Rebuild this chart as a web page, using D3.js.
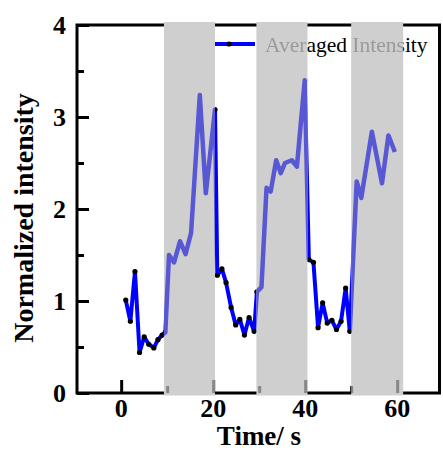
<!DOCTYPE html>
<html><head><meta charset="utf-8">
<script src="https://cdn.jsdelivr.net/npm/d3@7"></script>
<style>html,body{margin:0;padding:0;background:#fff;} svg{display:block;}</style>
</head><body>
<svg id="chart" width="443" height="450"></svg>
<script>
// ---- data ----
const times = [1.0,2.0,3.0,4.0,5.0,6.0,7.1,8.0,8.9,
  9.6,10.4,11.5,12.8,14.0,15.2,17.1,18.4,20.4,
  20.9,21.9,22.8,23.9,24.9,25.8,26.8,27.8,28.9,
  29.5,30.5,31.6,32.5,33.7,34.7,35.6,37.1,38.2,39.9,
  40.8,41.8,42.8,43.8,44.8,45.8,46.8,47.8,48.8,49.7,
  51.2,52.2,54.5,56.7,58.1,59.5];
const intensity = [1.01,0.78,1.32,0.44,0.61,0.53,0.49,0.58,0.63,
  0.66,1.50,1.42,1.65,1.51,1.74,3.24,2.17,3.08,
  1.28,1.35,1.20,0.93,0.74,0.80,0.63,0.82,0.67,
  1.10,1.15,2.23,2.19,2.53,2.39,2.50,2.53,2.46,3.40,
  1.45,1.42,0.71,0.98,0.76,0.79,0.69,0.78,1.14,0.67,
  2.30,2.12,2.84,2.28,2.80,2.62];
const stimStart = [9.3, 29.4, 50.0];
const stimEnd = [20.4, 40.5, 61.3];
const xMajorTicks = [0, 20, 40, 60];
const xMinorTicks = [10, 30, 50];
const yMajorTicks = [0, 1, 2, 3, 4];
const yMinorTicks = [0.5, 1.5, 2.5, 3.5];
const seriesName = "Averaged Intensity";
const xTitle = "Time/ s";
const yTitle = "Normalized intensity";

const points = times.map((t, i) => ({t, v: intensity[i]}));
const stims = stimStart.map((s, i) => ({s, e: stimEnd[i]}));

// ---- layout ----
const L = 77, R = 439.5, T = 25, B = 393;
const x = d3.scaleLinear().domain([-9.6, 69.2]).range([L, R]);
const y = d3.scaleLinear().domain([0, 4]).range([B, T]);
const FONT = "'Liberation Serif','Times New Roman',serif";

const svg = d3.select("#chart");
const defs = svg.append("defs");
const clip = defs.append("clipPath").attr("id", "grayclip");
clip.selectAll("rect").data(stims).join("rect")
  .attr("x", d => x(d.s)).attr("width", d => x(d.e) - x(d.s))
  .attr("y", 22).attr("height", 395.5 - 22);
defs.append("filter").attr("id", "soft")
  .append("feGaussianBlur").attr("stdDeviation", 0.7);

// ---- axes ----
function drawTicks(g) {
  g.append("g").attr("transform", `translate(0,${B})`)
    .call(d3.axisBottom(x).tickValues(xMajorTicks).tickSize(-13).tickFormat(""))
    .call(a => a.select(".domain").remove());
  g.append("g").attr("transform", `translate(0,${B})`)
    .call(d3.axisBottom(x).tickValues(xMinorTicks).tickSize(-7).tickFormat(""))
    .call(a => a.select(".domain").remove());
  g.append("g").attr("transform", `translate(${L},0)`)
    .call(d3.axisLeft(y).tickValues(yMajorTicks).tickSize(-12).tickFormat(""))
    .call(a => a.select(".domain").remove());
  g.append("g").attr("transform", `translate(${L},0)`)
    .call(d3.axisLeft(y).tickValues(yMinorTicks).tickSize(-7).tickFormat(""))
    .call(a => a.select(".domain").remove());
  g.selectAll(".tick line").attr("stroke", "#000").attr("stroke-width", 3);
}
const axes = svg.append("g");
drawTicks(axes);
axes.append("rect").attr("x", L).attr("y", T).attr("width", R - L).attr("height", B - T)
  .attr("fill", "none").attr("stroke", "#000").attr("stroke-width", 3);

// tick labels
svg.append("g").selectAll("text").data(xMajorTicks).join("text")
  .attr("x", d => x(d)).attr("y", 416.5).attr("text-anchor", "middle")
  .attr("font-family", FONT).attr("font-weight", "bold").attr("font-size", 26)
  .text(d => d);
svg.append("g").selectAll("text").data(yMajorTicks).join("text")
  .attr("x", 66).attr("y", d => y(d) + 8.8).attr("text-anchor", "end")
  .attr("font-family", FONT).attr("font-weight", "bold").attr("font-size", 26)
  .text(d => d);

// axis titles
svg.append("text").attr("x", 259).attr("y", 445).attr("text-anchor", "middle")
  .attr("font-family", FONT).attr("font-weight", "bold").attr("font-size", 27)
  .text(xTitle);
svg.append("text").attr("transform", "translate(33,218) rotate(-90)")
  .attr("text-anchor", "middle")
  .attr("font-family", FONT).attr("font-weight", "bold").attr("font-size", 28)
  .text(yTitle);

// ---- series ----
const line = d3.line().x(d => x(d.t)).y(d => y(d.v));
svg.append("path").datum(points).attr("d", line)
  .attr("fill", "none").attr("stroke", "#0000ff").attr("stroke-width", 4)
  .attr("stroke-linejoin", "round");
svg.append("g").selectAll("circle").data(points).join("circle")
  .attr("cx", d => x(d.t)).attr("cy", d => y(d.v)).attr("r", 2.6).attr("fill", "#000");

// ---- legend ----
const lg = svg.append("g");
lg.append("line").attr("x1", 205).attr("x2", 255).attr("y1", 44).attr("y2", 44)
  .attr("stroke", "#0000ff").attr("stroke-width", 4);
lg.append("circle").attr("cx", 229).attr("cy", 44).attr("r", 2.6).attr("fill", "#000");
lg.append("text").attr("x", 265).attr("y", 52)
  .attr("font-family", FONT).attr("font-size", 21.5).text(seriesName);

// ---- stimulus shading ----
svg.append("g").selectAll("rect").data(stims).join("rect")
  .attr("x", d => x(d.s)).attr("width", d => x(d.e) - x(d.s))
  .attr("y", 22).attr("height", 395.5 - 22).attr("fill", "#cfcfcf");

// faded content showing through the shading
const over = svg.append("g").attr("clip-path", "url(#grayclip)");
const overTicks = over.append("g").attr("opacity", 0.35);
drawTicks(overTicks);
over.append("path").datum(points).attr("d", line)
  .attr("fill", "none").attr("stroke", "#5858d4").attr("stroke-width", 4.5)
  .attr("stroke-linejoin", "round").attr("filter", "url(#soft)");
over.append("line").attr("x1", 205).attr("x2", 255).attr("y1", 42).attr("y2", 42)
  .attr("stroke", "#6a6ad0").attr("stroke-width", 3.5).attr("filter", "url(#soft)");
over.append("text").attr("x", 265).attr("y", 52)
  .attr("font-family", FONT).attr("font-size", 21.5).attr("fill", "#9a9a9a")
  .attr("filter", "url(#soft)").text(seriesName);
</script>
</body></html>
